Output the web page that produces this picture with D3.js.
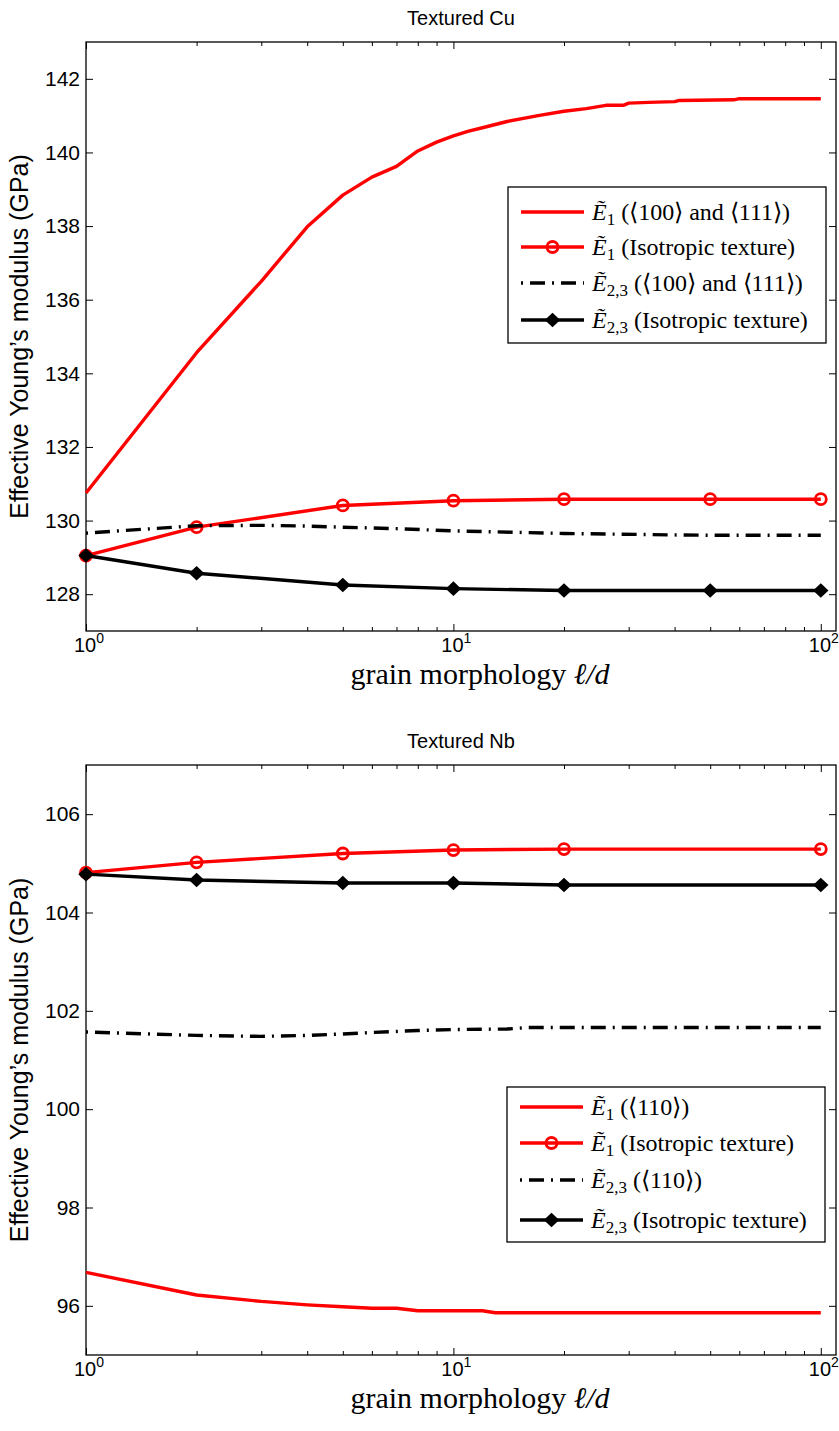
<!DOCTYPE html>
<html><head><meta charset="utf-8">
<script src="https://cdn.jsdelivr.net/npm/d3@7"></script>
<style>body{margin:0;background:#fff}</style>
</head><body>
<svg id="chart" width="839" height="1431" xmlns="http://www.w3.org/2000/svg"></svg>
<script>
// ---------------- data ----------------
const cuTitle = "Textured Cu";
const nbTitle = "Textured Nb";

const cuIsoX   = [1, 2, 5, 10, 20, 50, 100];
const cuE1Iso  = [129.05, 129.82, 130.41, 130.54, 130.58, 130.58, 130.58];
const cuE23Iso = [129.05, 128.57, 128.25, 128.15, 128.1, 128.1, 128.1];
const cuE1TexX = [1, 2, 3, 4, 5, 6, 7, 8, 9, 10, 11, 12, 14, 17, 20, 23, 26, 29, 30, 34, 40, 41, 58, 60, 100];
const cuE1Tex  = [130.75, 134.56, 136.5, 137.98, 138.84, 139.33, 139.62, 140.04, 140.28, 140.45, 140.58, 140.67, 140.84, 141.0, 141.12, 141.19, 141.28, 141.28, 141.34, 141.36, 141.38, 141.41, 141.43, 141.46, 141.46];
const cuE23TexX = [1, 2, 3, 4, 5, 7, 10, 20, 40, 50, 100];
const cuE23Tex  = [129.66, 129.86, 129.87, 129.85, 129.82, 129.78, 129.72, 129.65, 129.61, 129.6, 129.6];

const nbIsoX   = [1, 2, 5, 10, 20, 100];
const nbE1Iso  = [104.81, 105.02, 105.2, 105.27, 105.29, 105.29];
const nbE23Iso = [104.78, 104.66, 104.6, 104.6, 104.56, 104.56];
const nbE1TexX = [1, 2, 3, 4, 5, 6, 7, 8, 12, 13, 100];
const nbE1Tex  = [96.68, 96.22, 96.09, 96.02, 95.98, 95.95, 95.95, 95.9, 95.9, 95.86, 95.86];
const nbE23TexX = [1, 2, 3, 4, 5, 6, 8, 10, 14, 16, 100];
const nbE23Tex  = [101.57, 101.5, 101.48, 101.5, 101.53, 101.56, 101.6, 101.62, 101.63, 101.66, 101.66];

const yTicksCu = [128, 130, 132, 134, 136, 138, 140, 142];
const yTicksNb = [96, 98, 100, 102, 104, 106];
const xMajor = [1, 10, 100];
const xMajorExp = ["0", "1", "2"];
const xMinor = [2, 3, 4, 5, 6, 7, 8, 9, 20, 30, 40, 50, 60, 70, 80, 90];

const cuLegendSubs = ["1", "1", "2,3", "2,3"];
const cuLegendRest = [" (\u27E8100\u27E9 and \u27E8111\u27E9)", " (Isotropic texture)", " (\u27E8100\u27E9 and \u27E8111\u27E9)", " (Isotropic texture)"];
const nbLegendSubs = ["1", "1", "2,3", "2,3"];
const nbLegendRest = [" (\u27E8110\u27E9)", " (Isotropic texture)", " (\u27E8110\u27E9)", " (Isotropic texture)"];

const yLabel = "Effective Young\u2019s modulus (GPa)";

// ---------------- drawing ----------------
const svg = d3.select("#chart");
const SANS = "'Liberation Sans', Arial, Helvetica, sans-serif";
const SERIF = "'Liberation Serif', 'Times New Roman', serif";
const RED = "#ff0000";

function zip(xs, ys) { return xs.map((x, i) => ({x, y: ys[i]})); }

function panel(cfg) {
  const L = 86, R = 836;
  const g = svg.append("g");
  const x = d3.scaleLog().domain([1, 110]).range([L, R]);
  const y = d3.scaleLinear().domain(cfg.yDomain).range([cfg.bottom, cfg.top]);

  // title
  g.append("text").attr("x", 461).attr("y", cfg.top - 17)
    .attr("text-anchor", "middle").attr("font-family", SANS).attr("font-size", 20)
    .text(cfg.title);

  // frame
  g.append("rect").attr("x", L).attr("y", cfg.top).attr("width", R - L).attr("height", cfg.bottom - cfg.top)
    .attr("fill", "none").attr("stroke", "#000").attr("stroke-width", 1.3);

  // axes
  const styleAxis = sel => {
    sel.select(".domain").remove();
    sel.selectAll("line").attr("stroke", "#000").attr("stroke-width", 1);
  };
  g.append("g").attr("transform", `translate(${L},0)`)
    .call(d3.axisLeft(y).tickValues(cfg.yTicks).tickSize(-7).tickPadding(6).tickFormat(d3.format("d")))
    .call(styleAxis)
    .selectAll("text").attr("font-family", SANS).attr("font-size", 21).attr("fill", "#000");
  g.append("g").attr("transform", `translate(${R},0)`)
    .call(d3.axisRight(y).tickValues(cfg.yTicks).tickSize(-7).tickFormat(""))
    .call(styleAxis);
  g.append("g").attr("transform", `translate(0,${cfg.bottom})`)
    .call(d3.axisBottom(x).tickValues(xMajor).tickSize(-7).tickFormat(""))
    .call(styleAxis);
  g.append("g").attr("transform", `translate(0,${cfg.bottom})`)
    .call(d3.axisBottom(x).tickValues(xMinor).tickSize(-4).tickFormat(""))
    .call(styleAxis);
  g.append("g").attr("transform", `translate(0,${cfg.top})`)
    .call(d3.axisTop(x).tickValues(xMajor).tickSize(-7).tickFormat(""))
    .call(styleAxis);
  g.append("g").attr("transform", `translate(0,${cfg.top})`)
    .call(d3.axisTop(x).tickValues(xMinor).tickSize(-4).tickFormat(""))
    .call(styleAxis);

  // x tick labels 10^n
  xMajor.forEach((v, i) => {
    const t = g.append("text").attr("x", x(v) + 3).attr("y", cfg.bottom + 21)
      .attr("text-anchor", "middle").attr("font-family", SANS).attr("font-size", 20);
    t.append("tspan").text("10");
    t.append("tspan").attr("dy", -9).attr("font-size", 14).text(xMajorExp[i]);
  });

  // x label
  const xl = g.append("text").attr("x", 480).attr("y", cfg.bottom + 53)
    .attr("text-anchor", "middle").attr("font-family", SERIF).attr("font-size", 30);
  xl.append("tspan").text("grain morphology ");
  xl.append("tspan").attr("font-style", "italic").text("\u2113/d");

  // y label
  g.append("text").attr("transform", `translate(28,${(cfg.top + cfg.bottom) / 2}) rotate(-90)`)
    .attr("text-anchor", "middle").attr("font-family", SANS).attr("font-size", 25)
    .text(yLabel);

  const line = d3.line().x(d => x(d.x)).y(d => y(d.y));
  const plot = g.append("g");
  // E1 textured
  plot.append("path").datum(zip(cfg.e1TexX, cfg.e1Tex)).attr("d", line)
    .attr("fill", "none").attr("stroke", RED).attr("stroke-width", 3.4).attr("stroke-linejoin", "round");
  // E1 isotropic
  plot.append("path").datum(zip(cfg.isoX, cfg.e1Iso)).attr("d", line)
    .attr("fill", "none").attr("stroke", RED).attr("stroke-width", 3.4).attr("stroke-linejoin", "round");
  plot.selectAll(".circ").data(zip(cfg.isoX, cfg.e1Iso)).join("circle")
    .attr("cx", d => x(d.x)).attr("cy", d => y(d.y)).attr("r", 5.5)
    .attr("fill", "none").attr("stroke", RED).attr("stroke-width", 2.8);
  // E23 textured dash-dot
  plot.append("path").datum(zip(cfg.e23TexX, cfg.e23Tex)).attr("d", line)
    .attr("fill", "none").attr("stroke", "#000").attr("stroke-width", 3.4)
    .attr("stroke-dasharray", "2,7,15,7");
  // E23 isotropic
  plot.append("path").datum(zip(cfg.isoX, cfg.e23Iso)).attr("d", line)
    .attr("fill", "none").attr("stroke", "#000").attr("stroke-width", 3.4).attr("stroke-linejoin", "round");
  const dsym = d3.symbol().type(d3.symbolDiamond2).size(100);
  plot.selectAll(".dia").data(zip(cfg.isoX, cfg.e23Iso)).join("path")
    .attr("transform", d => `translate(${x(d.x)},${y(d.y)}) scale(1.05,1)`)
    .attr("d", dsym).attr("fill", "#000").attr("stroke", "#000").attr("stroke-width", 1.5);

  // legend
  const lg = cfg.legend;
  g.append("rect").attr("x", lg.x0).attr("y", lg.y0).attr("width", lg.x1 - lg.x0).attr("height", lg.y1 - lg.y0)
    .attr("fill", "#fff").attr("stroke", "#000").attr("stroke-width", 1.3);
  const styles = [
    {c: RED, dash: null, m: null},
    {c: RED, dash: null, m: "circle"},
    {c: "#000", dash: "2,7,15,7", m: null},
    {c: "#000", dash: null, m: "diamond"}
  ];
  lg.rows.forEach((ry, i) => {
    const s = styles[i];
    const ln = g.append("line").attr("x1", lg.x0 + 13).attr("x2", lg.x0 + 76).attr("y1", ry).attr("y2", ry)
      .attr("stroke", s.c).attr("stroke-width", 3.4);
    if (s.dash) ln.attr("stroke-dasharray", s.dash);
    const mx = lg.x0 + 44.5;
    if (s.m === "circle") g.append("circle").attr("cx", mx).attr("cy", ry).attr("r", 5.5)
      .attr("fill", "none").attr("stroke", RED).attr("stroke-width", 2.8);
    if (s.m === "diamond") g.append("path").attr("transform", `translate(${mx},${ry}) scale(1.05,1)`)
      .attr("d", dsym).attr("fill", "#000").attr("stroke", "#000").attr("stroke-width", 1.5);
    const t = g.append("text").attr("x", lg.x0 + 84).attr("y", ry + 8)
      .attr("font-family", SERIF).attr("font-size", 24);
    t.append("tspan").attr("font-style", "italic").text("\u1EBC");
    t.append("tspan").attr("dy", 5).attr("font-size", 17).text(cfg.legSubs[i]);
    t.append("tspan").attr("dy", -5).text(cfg.legRest[i]);
  });
}

panel({
  id: "cu", title: cuTitle, top: 42, bottom: 631, yDomain: [127, 143], yTicks: yTicksCu,
  isoX: cuIsoX, e1Iso: cuE1Iso, e23Iso: cuE23Iso,
  e1TexX: cuE1TexX, e1Tex: cuE1Tex, e23TexX: cuE23TexX, e23Tex: cuE23Tex,
  legSubs: cuLegendSubs, legRest: cuLegendRest,
  legend: {x0: 508, x1: 826, y0: 187, y1: 343, rows: [212, 247, 283, 320]}
});
panel({
  id: "nb", title: nbTitle, top: 765, bottom: 1355, yDomain: [95, 107], yTicks: yTicksNb,
  isoX: nbIsoX, e1Iso: nbE1Iso, e23Iso: nbE23Iso,
  e1TexX: nbE1TexX, e1Tex: nbE1Tex, e23TexX: nbE23TexX, e23Tex: nbE23Tex,
  legSubs: nbLegendSubs, legRest: nbLegendRest,
  legend: {x0: 507, x1: 825, y0: 1087, y1: 1242, rows: [1107, 1143, 1180, 1220]}
});
</script>
</body></html>
